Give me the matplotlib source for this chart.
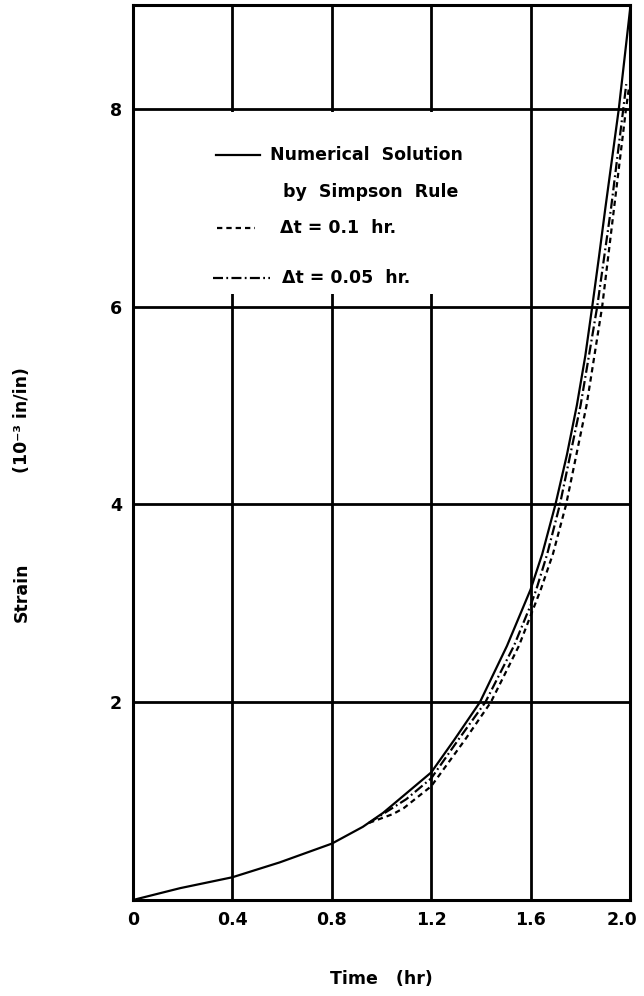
import matplotlib
matplotlib.use("Agg")
import matplotlib.pyplot as plt
import matplotlib.transforms as mtransforms
from matplotlib.patches import Rectangle
from matplotlib.lines import Line2D

# valores
t_simpson = [0.0, 0.19, 0.4, 0.59, 0.8, 0.925, 1.006, 1.2, 1.293, 1.396, 1.505, 1.6,
             1.647, 1.700, 1.746, 1.786, 1.820, 1.848, 1.875, 1.901, 1.928, 1.955, 2.0]
e_simpson = [0.0, 0.12, 0.23, 0.38, 0.57, 0.74, 0.88, 1.29, 1.62, 2.0, 2.57, 3.14,
             3.5, 4.0, 4.5, 5.0, 5.5, 6.0, 6.5, 7.0, 7.5, 8.0, 9.0]

t_dt005 = [0.95, 1.0, 1.1, 1.2, 1.309, 1.418, 1.533, 1.6, 1.623, 1.667, 1.718, 1.801,
           1.868, 1.924, 1.973, 1.985]
e_dt005 = [0.78, 0.86, 1.02, 1.23, 1.62, 2.0, 2.57, 2.98, 3.14, 3.5, 4.0, 5.0,
           6.0, 7.0, 8.0, 8.25]

t_dt01 = [0.95, 1.047, 1.09, 1.2, 1.336, 1.44, 1.553, 1.641, 1.69, 1.743, 1.825,
          1.888, 1.936, 1.984, 1.995]
e_dt01 = [0.78, 0.87, 0.93, 1.15, 1.62, 2.0, 2.57, 3.14, 3.5, 4.0, 5.0,
          6.0, 7.0, 8.0, 8.2]

xticks = [0, 0.4, 0.8, 1.2, 1.6, 2.0]
xtick_labels = ["0", "0.4", "0.8", "1.2", "1.6", "2.0"]
yticks = [2, 4, 6, 8]
ytick_labels = ["2", "4", "6", "8"]

plt.rcParams['font.family'] = ['DejaVu Sans']
plt.rcParams['font.weight'] = 'bold'

fig = plt.figure(figsize=(6.44, 9.96), dpi=100)
ax = fig.add_axes([133 / 644, 1 - 900 / 996, 497 / 644, 895 / 996])

ax.set_xlim(0, 2.0)
ax.set_ylim(0, 9.05)

# rejilla gruesa
ax.set_axisbelow(True)
ax.grid(True, color='black', linewidth=2.0)
for s in ax.spines.values():
    s.set_linewidth(2.2)

ax.set_xticks(xticks)
ax.set_xticklabels(xtick_labels)
ax.set_yticks(yticks)
ax.set_yticklabels(ytick_labels)
ax.tick_params(length=0, labelsize=12.5, pad=8)
for lbl in ax.get_xticklabels() + ax.get_yticklabels():
    lbl.set_fontweight('bold')
# el ultimo rotulo un poco a la izquierda para que no se corte
ult = ax.get_xticklabels()[-1]
ult.set_transform(ult.get_transform() + mtransforms.ScaledTranslation(-8 / 100, 0, fig.dpi_scale_trans))

# tapar la rejilla donde va la leyenda
ax.add_patch(Rectangle((0.006, 0.677), 0.777, 0.203, transform=ax.transAxes,
                       facecolor='white', edgecolor='none', zorder=1))

dash = (0, (2.4, 1.8))
dashdot = (0, (4.5, 1.5, 0.8, 1.5))
ax.plot(t_simpson, e_simpson, color='black', linewidth=1.6, zorder=3)
ax.plot(t_dt01, e_dt01, color='black', linewidth=1.6, linestyle=dash, zorder=3)
ax.plot(t_dt005, e_dt005, color='black', linewidth=1.6, linestyle=dashdot, zorder=3)

# leyenda dibujada a mano
ax.add_line(Line2D([0.167, 0.256], [0.832, 0.832], transform=ax.transAxes,
                   color='black', linewidth=1.6, zorder=3))
ax.add_line(Line2D([0.169, 0.245], [0.751, 0.751], transform=ax.transAxes,
                   color='black', linewidth=1.6, linestyle=dash, zorder=3))
ax.add_line(Line2D([0.161, 0.276], [0.695, 0.695], transform=ax.transAxes,
                   color='black', linewidth=1.6, linestyle=dashdot, zorder=3))

kw = dict(transform=ax.transAxes, fontsize=12.5, fontweight='bold', va='center', ha='left', zorder=3)
ax.text(0.276, 0.832, "Numerical  Solution", **kw)
ax.text(0.302, 0.791, "by  Simpson  Rule", **kw)
ax.text(0.296, 0.751, "Δt = 0.1  hr.", **kw)
ax.text(0.300, 0.695, "Δt = 0.05  hr.", **kw)

ax.set_xlabel("Time   (hr)", fontsize=12.5, fontweight='bold')
ax.xaxis.set_label_coords(0.5, -0.078)
fig.text(22 / 644, 1 - 592 / 996, "Strain", rotation=90,
         fontsize=12.5, fontweight='bold', ha='center', va='center')
fig.text(22 / 644, 1 - 420 / 996, "(10⁻³ in/in)", rotation=90,
         fontsize=12.5, fontweight='bold', ha='center', va='center')

plt.savefig("out.png", dpi=100)
